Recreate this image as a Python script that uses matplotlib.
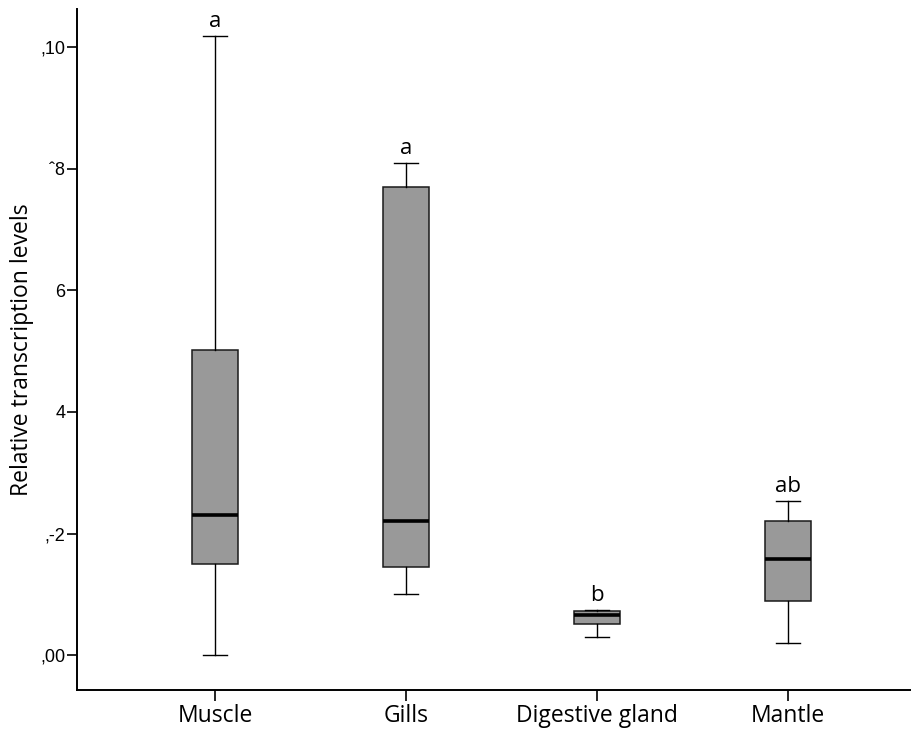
import matplotlib
matplotlib.use("Agg")
import matplotlib.pyplot as plt

# Tissue groups and their box statistics (relative transcription levels)
tissues = ["Muscle", "Gills", "Digestive gland", "Mantle"]
whisker_low = [0.0000, 0.0100, 0.0030, 0.0020]
q1 = [0.0150, 0.0145, 0.0051, 0.0089]
median = [0.0230, 0.0221, 0.0066, 0.0158]
q3 = [0.0502, 0.0770, 0.0073, 0.0221]
whisker_high = [0.1019, 0.0810, 0.0074, 0.0254]
letters = ["a", "a", "b", "ab"]

ytick_values = [0.00, 0.02, 0.04, 0.06, 0.08, 0.10]
ytick_labels = [",00", ",-2", "4", "6", "\u02c68", ",10"]

stats = []
for name, lo, a, m, b, hi in zip(tissues, whisker_low, q1, median, q3, whisker_high):
    stats.append(dict(label=name, whislo=lo, q1=a, med=m, q3=b, whishi=hi, fliers=[]))

fig = plt.figure(figsize=(9.12, 7.29), dpi=100)
ax = fig.add_axes([0.0844, 0.0535, 0.9156, 0.9342])

positions = list(range(1, len(tissues) + 1))
ax.bxp(stats, positions=positions, widths=0.24, patch_artist=True,
       showfliers=False,
       boxprops=dict(facecolor="#999999", edgecolor="#1a1a1a", linewidth=1.1),
       medianprops=dict(color="black", linewidth=2.6),
       whiskerprops=dict(color="black", linewidth=1.0),
       capprops=dict(color="black", linewidth=1.0),
       capwidths=0.125)

# Significance letters above each group
for x, hi, txt in zip(positions, whisker_high, letters):
    ax.annotate(txt, (x, hi), xytext=(0, 3), textcoords="offset points",
                ha="center", va="bottom", fontsize=16, family="Open Sans")

ax.set_xlim(0.2775, 4.649)
ax.set_ylim(-0.00576, 0.10634)

ax.set_yticks(ytick_values)
ax.set_yticklabels(ytick_labels, family="Liberation Sans", fontsize=13)
ax.set_xticks(positions)
ax.set_xticklabels(tissues, family="Open Sans", fontsize=16.5)
ax.tick_params(axis="y", direction="out", length=7.5, width=1.2, colors="black", pad=1)
ax.tick_params(axis="x", direction="out", length=8, width=1.2, colors="black", pad=2)

ax.set_ylabel("Relative transcription levels", family="Open Sans", fontsize=16.5, labelpad=4)

for side in ("top", "right"):
    ax.spines[side].set_visible(False)
for side in ("left", "bottom"):
    ax.spines[side].set_linewidth(1.4)

fig.savefig("out.png", dpi=100)
